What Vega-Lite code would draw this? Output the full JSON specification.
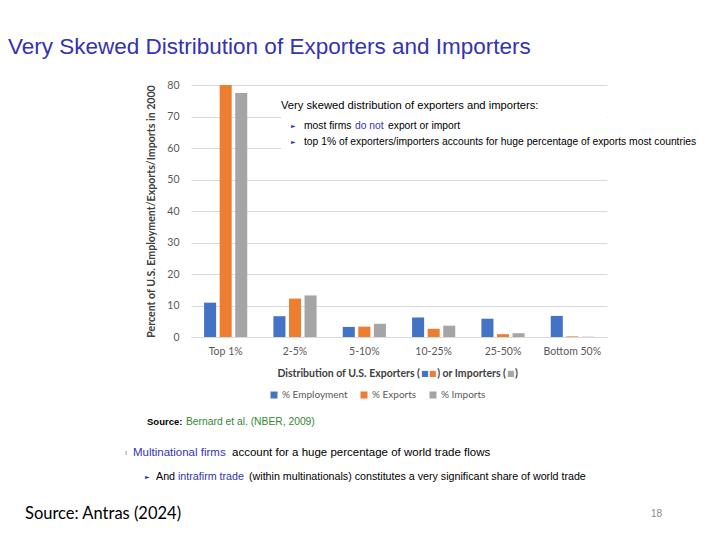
{
  "$schema": "https://vega.github.io/schema/vega-lite/v6.json",
  "width": 416,
  "height": 252,
  "autosize": {"type": "none"},
  "padding": {"left": 191, "top": 85, "right": 113, "bottom": 203},
  "background": "white",
  "title": {
    "text": "Very Skewed Distribution of Exporters and Importers",
    "anchor": "start",
    "frame": "group",
    "dx": -183,
    "offset": 22,
    "font": "Liberation Sans",
    "fontSize": 22.5,
    "fontWeight": "normal",
    "color": "#3333B3"
  },
  "config": {"view": {"stroke": null}},
  "resolve": {"axis": {"x": "independent", "y": "independent"}},
  "layer": [
    {
      "data": {
        "values": [
          {"group": "Top 1%", "series": "% Employment", "value": 10.9},
          {"group": "Top 1%", "series": "% Exports", "value": 80},
          {"group": "Top 1%", "series": "% Imports", "value": 77.5},
          {"group": "2-5%", "series": "% Employment", "value": 6.6},
          {"group": "2-5%", "series": "% Exports", "value": 12.2},
          {"group": "2-5%", "series": "% Imports", "value": 13.2},
          {"group": "5-10%", "series": "% Employment", "value": 3.2},
          {"group": "5-10%", "series": "% Exports", "value": 3.3},
          {"group": "5-10%", "series": "% Imports", "value": 4.2},
          {"group": "10-25%", "series": "% Employment", "value": 6.2},
          {"group": "10-25%", "series": "% Exports", "value": 2.6},
          {"group": "10-25%", "series": "% Imports", "value": 3.6},
          {"group": "25-50%", "series": "% Employment", "value": 5.8},
          {"group": "25-50%", "series": "% Exports", "value": 0.9},
          {"group": "25-50%", "series": "% Imports", "value": 1.2},
          {"group": "Bottom 50%", "series": "% Employment", "value": 6.7},
          {"group": "Bottom 50%", "series": "% Exports", "value": 0.2},
          {"group": "Bottom 50%", "series": "% Imports", "value": 0.1}
        ]
      },
      "mark": {"type": "bar"},
      "encoding": {
        "x": {
          "field": "group",
          "type": "nominal",
          "sort": ["Top 1%", "2-5%", "5-10%", "10-25%", "25-50%", "Bottom 50%"],
          "scale": {"domain": ["Top 1%", "2-5%", "5-10%", "10-25%", "25-50%", "Bottom 50%"], "paddingInner": 0, "paddingOuter": 0},
          "axis": {
            "title": null,
            "labelAngle": 0,
            "labelFont": "Lato",
            "labelFontSize": 10.5,
            "labelColor": "#595959",
            "labelPadding": 9,
            "ticks": false,
            "domain": true,
            "domainColor": "#d9d9d9"
          }
        },
        "xOffset": {
          "field": "series",
          "type": "nominal",
          "sort": ["% Employment", "% Exports", "% Imports"],
          "scale": {"paddingInner": 0.226, "paddingOuter": 0.84}
        },
        "y": {
          "field": "value",
          "type": "quantitative",
          "scale": {"domain": [0, 80], "nice": false},
          "axis": {
            "values": [0, 10, 20, 30, 40, 50, 60, 70, 80],
            "title": "Percent of U.S. Employment/Exports/Imports in 2000",
            "titleFont": "Lato",
            "titleFontSize": 10.6,
            "titleFontWeight": "bold",
            "titleColor": "#404040",
            "titlePadding": 10,
            "labelFont": "Lato",
            "labelFontSize": 10.5,
            "labelColor": "#595959",
            "labelPadding": 12,
            "labelOverlap": false,
            "ticks": false,
            "domain": false,
            "grid": true,
            "gridColor": "#d9d9d9"
          }
        },
        "color": {
          "field": "series",
          "type": "nominal",
          "sort": ["% Employment", "% Exports", "% Imports"],
          "scale": {"domain": ["% Employment", "% Exports", "% Imports"], "range": ["#4472C4", "#ED7D31", "#A5A5A5"]},
          "legend": {
            "title": null,
            "orient": "none",
            "direction": "horizontal",
            "legendX": 78,
            "legendY": 305,
            "symbolType": "square",
            "symbolSize": 49,
            "symbolStrokeWidth": 0,
            "labelFont": "Lato",
            "labelFontSize": 10,
            "labelColor": "#595959",
            "labelOffset": 3,
            "columnPadding": 11
          }
        }
      }
    },
    {
      "data": {"values": [{"box": "note"}]},
      "mark": {"type": "rect", "color": "white"},
      "encoding": {
        "x": {"datum": "2-5%", "bandPosition": 0.3, "axis": null},
        "x2": {"datum": "Bottom 50%", "bandPosition": 1},
        "y": {"datum": 57, "axis": null},
        "y2": {"datum": 77}
      }
    },
    {
      "data": {"values": [{"label": "Very skewed distribution of exporters and importers:"}]},
      "mark": {"type": "text", "align": "left", "baseline": "middle", "dx": 90, "font": "Liberation Sans", "fontSize": 11.2, "color": "black"},
      "encoding": {"text": {"field": "label"}, "x": {"datum": "Top 1%", "bandPosition": 0, "axis": null}, "y": {"datum": 73.3, "axis": null}}
    },
    {
      "data": {"values": [{"label": "►"}]},
      "mark": {"type": "text", "align": "left", "baseline": "middle", "dx": 100, "font": "DejaVu Sans", "fontSize": 6, "color": "#3333B3"},
      "encoding": {"text": {"field": "label"}, "x": {"datum": "Top 1%", "bandPosition": 0, "axis": null}, "y": {"datum": 67.0, "axis": null}}
    },
    {
      "data": {"values": [{"label": "►"}]},
      "mark": {"type": "text", "align": "left", "baseline": "middle", "dx": 100, "font": "DejaVu Sans", "fontSize": 6, "color": "#3333B3"},
      "encoding": {"text": {"field": "label"}, "x": {"datum": "Top 1%", "bandPosition": 0, "axis": null}, "y": {"datum": 61.9, "axis": null}}
    },
    {
      "data": {"values": [{"label": "most firms"}]},
      "mark": {"type": "text", "align": "left", "baseline": "middle", "dx": 113, "font": "Liberation Sans", "fontSize": 10.3, "color": "black"},
      "encoding": {"text": {"field": "label"}, "x": {"datum": "Top 1%", "bandPosition": 0, "axis": null}, "y": {"datum": 67.0, "axis": null}}
    },
    {
      "data": {"values": [{"label": "do not"}]},
      "mark": {"type": "text", "align": "left", "baseline": "middle", "dx": 164, "font": "Liberation Sans", "fontSize": 10.3, "color": "#3333B3"},
      "encoding": {"text": {"field": "label"}, "x": {"datum": "Top 1%", "bandPosition": 0, "axis": null}, "y": {"datum": 67.0, "axis": null}}
    },
    {
      "data": {"values": [{"label": "export or import"}]},
      "mark": {"type": "text", "align": "left", "baseline": "middle", "dx": 197, "font": "Liberation Sans", "fontSize": 10.3, "color": "black"},
      "encoding": {"text": {"field": "label"}, "x": {"datum": "Top 1%", "bandPosition": 0, "axis": null}, "y": {"datum": 67.0, "axis": null}}
    },
    {
      "data": {"values": [{"label": "top 1% of exporters/importers accounts for huge percentage of exports most countries"}]},
      "mark": {"type": "text", "align": "left", "baseline": "middle", "dx": 113, "font": "Liberation Sans", "fontSize": 10.3, "color": "black"},
      "encoding": {"text": {"field": "label"}, "x": {"datum": "Top 1%", "bandPosition": 0, "axis": null}, "y": {"datum": 61.9, "axis": null}}
    },
    {
      "data": {"values": [{"label": "Distribution of U.S. Exporters ("}]},
      "mark": {"type": "text", "align": "right", "baseline": "middle", "dx": 229, "font": "Lato", "fontSize": 10.5, "fontWeight": "bold", "color": "#404040"},
      "encoding": {"text": {"field": "label"}, "x": {"datum": "Top 1%", "bandPosition": 0, "axis": null}, "y": {"datum": -11.6, "axis": null}}
    },
    {
      "data": {"values": [{"label": "■"}]},
      "mark": {"type": "text", "align": "left", "baseline": "middle", "dx": 230, "font": "DejaVu Sans", "fontSize": 8, "color": "#4472C4"},
      "encoding": {"text": {"field": "label"}, "x": {"datum": "Top 1%", "bandPosition": 0, "axis": null}, "y": {"datum": -11.6, "axis": null}}
    },
    {
      "data": {"values": [{"label": "■"}]},
      "mark": {"type": "text", "align": "left", "baseline": "middle", "dx": 238, "font": "DejaVu Sans", "fontSize": 8, "color": "#ED7D31"},
      "encoding": {"text": {"field": "label"}, "x": {"datum": "Top 1%", "bandPosition": 0, "axis": null}, "y": {"datum": -11.6, "axis": null}}
    },
    {
      "data": {"values": [{"label": ") or Importers ("}]},
      "mark": {"type": "text", "align": "right", "baseline": "middle", "dx": 315, "font": "Lato", "fontSize": 10.5, "fontWeight": "bold", "color": "#404040"},
      "encoding": {"text": {"field": "label"}, "x": {"datum": "Top 1%", "bandPosition": 0, "axis": null}, "y": {"datum": -11.6, "axis": null}}
    },
    {
      "data": {"values": [{"label": "■"}]},
      "mark": {"type": "text", "align": "left", "baseline": "middle", "dx": 316, "font": "DejaVu Sans", "fontSize": 8, "color": "#A5A5A5"},
      "encoding": {"text": {"field": "label"}, "x": {"datum": "Top 1%", "bandPosition": 0, "axis": null}, "y": {"datum": -11.6, "axis": null}}
    },
    {
      "data": {"values": [{"label": ")"}]},
      "mark": {"type": "text", "align": "left", "baseline": "middle", "dx": 324, "font": "Lato", "fontSize": 10.5, "fontWeight": "bold", "color": "#404040"},
      "encoding": {"text": {"field": "label"}, "x": {"datum": "Top 1%", "bandPosition": 0, "axis": null}, "y": {"datum": -11.6, "axis": null}}
    },
    {
      "data": {"values": [{"label": "Source:"}]},
      "mark": {"type": "text", "align": "left", "baseline": "middle", "dx": -44, "font": "Liberation Sans", "fontSize": 9.5, "fontWeight": "bold", "color": "black"},
      "encoding": {"text": {"field": "label"}, "x": {"datum": "Top 1%", "bandPosition": 0, "axis": null}, "y": {"datum": -26.9, "axis": null}}
    },
    {
      "data": {"values": [{"label": "Bernard et al. (NBER, 2009)"}]},
      "mark": {"type": "text", "align": "left", "baseline": "middle", "dx": -5, "font": "Liberation Sans", "fontSize": 10.3, "color": "#338833"},
      "encoding": {"text": {"field": "label"}, "x": {"datum": "Top 1%", "bandPosition": 0, "axis": null}, "y": {"datum": -26.9, "axis": null}}
    },
    {
      "data": {"values": [{"label": "ı"}]},
      "mark": {"type": "text", "align": "left", "baseline": "middle", "dx": -66, "font": "Liberation Sans", "fontSize": 8, "color": "#7777aa"},
      "encoding": {"text": {"field": "label"}, "x": {"datum": "Top 1%", "bandPosition": 0, "axis": null}, "y": {"datum": -36.8, "axis": null}}
    },
    {
      "data": {"values": [{"label": "Multinational firms"}]},
      "mark": {"type": "text", "align": "left", "baseline": "middle", "dx": -58, "font": "Liberation Sans", "fontSize": 11.5, "color": "#3333B3"},
      "encoding": {"text": {"field": "label"}, "x": {"datum": "Top 1%", "bandPosition": 0, "axis": null}, "y": {"datum": -36.8, "axis": null}}
    },
    {
      "data": {"values": [{"label": "account for a huge percentage of world trade flows"}]},
      "mark": {"type": "text", "align": "left", "baseline": "middle", "dx": 41, "font": "Liberation Sans", "fontSize": 11.5, "color": "black"},
      "encoding": {"text": {"field": "label"}, "x": {"datum": "Top 1%", "bandPosition": 0, "axis": null}, "y": {"datum": -36.8, "axis": null}}
    },
    {
      "data": {"values": [{"label": "►"}]},
      "mark": {"type": "text", "align": "left", "baseline": "middle", "dx": -46, "font": "DejaVu Sans", "fontSize": 6, "color": "#3333B3"},
      "encoding": {"text": {"field": "label"}, "x": {"datum": "Top 1%", "bandPosition": 0, "axis": null}, "y": {"datum": -44.4, "axis": null}}
    },
    {
      "data": {"values": [{"label": "And"}]},
      "mark": {"type": "text", "align": "left", "baseline": "middle", "dx": -35, "font": "Liberation Sans", "fontSize": 10.7, "color": "black"},
      "encoding": {"text": {"field": "label"}, "x": {"datum": "Top 1%", "bandPosition": 0, "axis": null}, "y": {"datum": -44.4, "axis": null}}
    },
    {
      "data": {"values": [{"label": "intrafirm trade"}]},
      "mark": {"type": "text", "align": "left", "baseline": "middle", "dx": -13, "font": "Liberation Sans", "fontSize": 10.7, "color": "#3333B3"},
      "encoding": {"text": {"field": "label"}, "x": {"datum": "Top 1%", "bandPosition": 0, "axis": null}, "y": {"datum": -44.4, "axis": null}}
    },
    {
      "data": {"values": [{"label": "(within multinationals) constitutes a very significant share of world trade"}]},
      "mark": {"type": "text", "align": "left", "baseline": "middle", "dx": 58, "font": "Liberation Sans", "fontSize": 10.7, "color": "black"},
      "encoding": {"text": {"field": "label"}, "x": {"datum": "Top 1%", "bandPosition": 0, "axis": null}, "y": {"datum": -44.4, "axis": null}}
    },
    {
      "data": {"values": [{"label": "Source: Antras (2024)"}]},
      "mark": {"type": "text", "align": "left", "baseline": "middle", "dx": -166, "font": "Lato", "fontSize": 16.5, "color": "black"},
      "encoding": {"text": {"field": "label"}, "x": {"datum": "Top 1%", "bandPosition": 0, "axis": null}, "y": {"datum": -56.2, "axis": null}}
    },
    {
      "data": {"values": [{"label": "18"}]},
      "mark": {"type": "text", "align": "left", "baseline": "middle", "dx": 460, "font": "Liberation Sans", "fontSize": 10, "color": "#888888"},
      "encoding": {"text": {"field": "label"}, "x": {"datum": "Top 1%", "bandPosition": 0, "axis": null}, "y": {"datum": -56.2, "axis": null}}
    }
  ]
}
